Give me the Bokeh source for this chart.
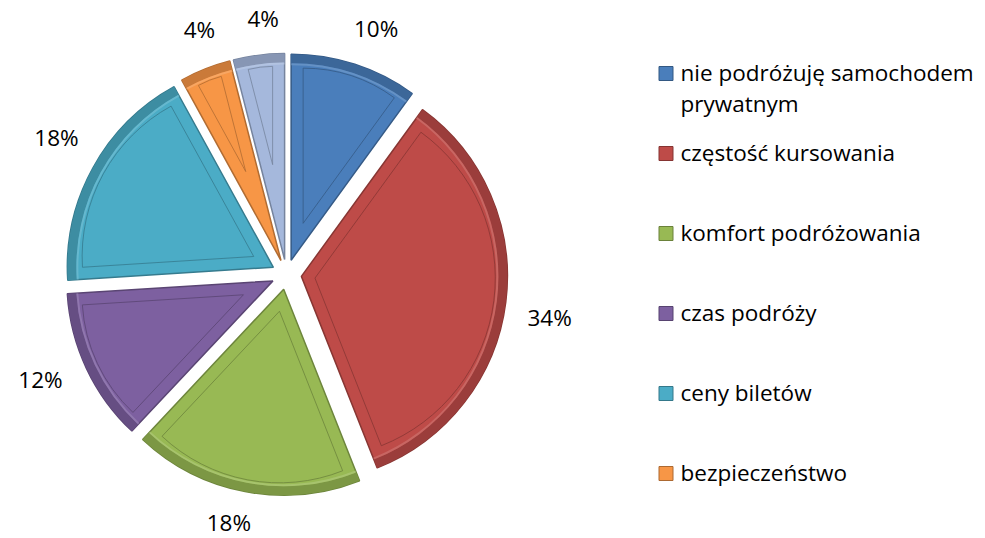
import numpy as np
from bokeh.plotting import figure
from bokeh.models import Range1d, ColumnDataSource
from bokeh.core.properties import value
from bokeh.embed import file_html
from bokeh.resources import INLINE

# ---- data ----
categories = ["nie podróżuję samochodem\nprywatnym", "częstość kursowania",
              "komfort podróżowania", "czas podróży", "ceny biletów",
              "bezpieczeństwo", "inne"]
shares = [10, 34, 18, 12, 18, 4, 4]
labels = ["10%", "34%", "18%", "12%", "18%", "4%", "4%"]
colors = ["#4A7EBB", "#BE4B48", "#98B954", "#7D60A0", "#4BACC6", "#F79646", "#A5B8DC"]
legend_count = 6  # the last entry is cut off in the original

FONT = "Open Sans"
FS = "22.5px"
W, H = 985, 538

def shade(hexc, f):
    h = hexc.lstrip("#")
    r, g, b = (int(h[i:i + 2], 16) for i in (0, 2, 4))
    if f < 1:
        r, g, b = (int(c * f) for c in (r, g, b))
    else:
        r, g, b = (int(c + (255 - c) * (f - 1)) for c in (r, g, b))
    return "#%02x%02x%02x" % (r, g, b)

# ---- geometry (pixel-like data units, y up) ----
cx, cy = 286.0, 264.0
R = 206.0
explode = 15.0
inset = 12.0

vals = np.array(shares, dtype=float)
frac = vals / vals.sum()
cum = np.concatenate([[0], np.cumsum(frac)])
theta0 = cum[:-1] * 2 * np.pi          # clockwise from 12 o'clock
theta1 = cum[1:] * 2 * np.pi
mid = (theta0 + theta1) / 2
half = (theta1 - theta0) / 2

ax = cx + explode * np.sin(mid)
ay = cy + explode * np.cos(mid)
start = np.pi / 2 - theta0
end = np.pi / 2 - theta1

d_in = inset / np.sin(half)
ix = ax + d_in * np.sin(mid)
iy = ay + d_in * np.cos(mid)
ir = R - inset - d_in

# label positions: outside each slice, clear of the text box
la = mid + np.radians(2.0)
hw = np.array([7.0 * len(s) - 1 for s in labels])
lr = 245 + np.abs(np.sin(la)) * hw + np.abs(np.cos(la)) * 11
lx = cx + lr * np.sin(la)
ly = np.maximum(cy + lr * np.cos(la), 16)

src = ColumnDataSource(dict(
    ax=ax, ay=ay, start=start, end=end, color=colors,
    dark=[shade(c, 0.72) for c in colors],
    rim=[shade(c, 0.82) for c in colors],
    light=[shade(c, 1.25) for c in colors],
    ix=ix, iy=iy, ir=ir, lx=lx, ly=ly, lab=labels,
))

p = figure(width=W, height=H, x_range=Range1d(0, W), y_range=Range1d(0, H),
           output_backend="svg", toolbar_location=None,
           x_axis_location=None, y_axis_location=None, min_border=0)
p.grid.visible = False
p.outline_line_color = None
p.background_fill_color = "white"

# main slices
p.wedge(x="ax", y="ay", radius=R, start_angle="start", end_angle="end",
        direction="clock", fill_color="color", line_color="dark",
        line_width=1.5, source=src)
# outer rim bevel
p.annular_wedge(x="ax", y="ay", inner_radius=R - 9, outer_radius=R,
                start_angle="start", end_angle="end", direction="clock",
                fill_color="rim", line_color=None, source=src)
p.annular_wedge(x="ax", y="ay", inner_radius=R - 11, outer_radius=R - 9,
                start_angle="start", end_angle="end", direction="clock",
                fill_color="light", fill_alpha=0.6, line_color=None, source=src)
# inner outline
p.wedge(x="ix", y="iy", radius="ir", start_angle="start", end_angle="end",
        direction="clock", fill_color=None, line_color="dark",
        line_width=1, line_alpha=0.8, source=src)

# data labels
p.text(x="lx", y="ly", text="lab", text_align="center", text_baseline="middle",
       text_font=value(FONT), text_font_size=FS, text_color="black", source=src)

# legend (drawn manually to mimic the evenly spaced Excel legend)
rows = np.arange(legend_count)
ly_leg = H - (73 + 80 * rows)
leg = ColumnDataSource(dict(
    x=[665.5] * legend_count, y=ly_leg, tx=[680] * legend_count, ty=ly_leg + 17,
    color=colors[:legend_count], dark=[shade(c, 0.7) for c in colors[:legend_count]],
    name=categories[:legend_count],
))
p.scatter(x="x", y="y", marker="square", size=14, fill_color="color",
          line_color="dark", line_width=1, source=leg)
p.text(x="tx", y="ty", text="name", text_align="left", text_baseline="top",
       text_line_height=1.0, text_font=value(FONT), text_font_size=FS,
       text_color="black", source=leg)

open("out.html", "w").write(file_html(p, INLINE))
